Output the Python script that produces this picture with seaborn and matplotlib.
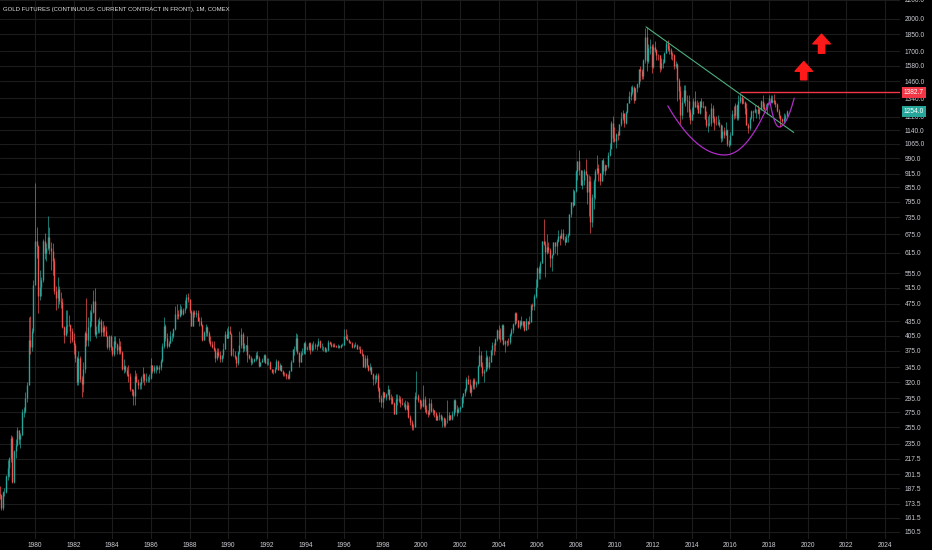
import numpy as np
import pandas as pd
import matplotlib
matplotlib.use("Agg")
import matplotlib.pyplot as plt
import matplotlib.ticker as mticker
import matplotlib.transforms as mtransforms
from matplotlib.patches import FancyArrowPatch
import seaborn as sns

# --- monthly gold futures, Jan 1978 .. Dec 2018 ---
first_open = 165
close_prices = [
    175, 182, 181, 170, 184, 184, 200, 208, 218, 242, 194, 226,  # 1978
    233, 251, 240, 245, 275, 277, 296, 315, 397, 383, 415, 524,  # 1979
    653, 637, 494, 518, 535, 653, 614, 631, 666, 629, 619, 589,  # 1980
    506, 489, 513, 482, 479, 422, 406, 425, 428, 427, 414, 397,  # 1981
    387, 362, 320, 361, 325, 317, 342, 411, 397, 423, 436, 456,  # 1982
    481, 408, 414, 430, 437, 413, 422, 414, 405, 382, 405, 382,  # 1983
    370, 394, 388, 377, 385, 373, 342, 348, 341, 333, 330, 309,  # 1984
    306, 298, 330, 321, 316, 317, 327, 334, 323, 325, 325, 327,  # 1985
    350, 338, 345, 346, 343, 345, 357, 384, 424, 401, 384, 391,  # 1986
    405, 405, 419, 452, 451, 448, 462, 452, 460, 465, 492, 486,  # 1987
    458, 426, 457, 451, 455, 436, 437, 428, 397, 412, 423, 410,  # 1988
    394, 388, 383, 377, 361, 373, 368, 359, 367, 378, 409, 401,  # 1989
    415, 408, 368, 368, 363, 352, 372, 387, 408, 380, 384, 386,  # 1990
    367, 362, 355, 357, 360, 368, 362, 347, 354, 358, 367, 353,  # 1991
    354, 354, 342, 337, 337, 343, 357, 341, 349, 339, 334, 333,  # 1992
    330, 327, 338, 355, 378, 378, 401, 372, 355, 370, 371, 391,  # 1993
    378, 381, 391, 376, 387, 386, 384, 386, 394, 383, 383, 383,  # 1994
    375, 376, 392, 389, 385, 387, 384, 383, 384, 383, 387, 387,  # 1995
    405, 400, 396, 392, 391, 382, 385, 386, 379, 379, 371, 369,  # 1996
    345, 362, 349, 340, 345, 334, 326, 325, 332, 311, 296, 290,  # 1997
    304, 297, 301, 309, 294, 296, 288, 273, 294, 292, 294, 288,  # 1998
    287, 287, 280, 286, 269, 262, 256, 255, 299, 299, 292, 288,  # 1999
    284, 294, 279, 275, 273, 289, 277, 278, 274, 265, 270, 272,  # 2000
    266, 267, 258, 264, 265, 271, 266, 273, 293, 279, 275, 279,  # 2001
    282, 297, 303, 309, 326, 318, 305, 313, 324, 317, 319, 348,  # 2002
    368, 348, 336, 339, 364, 346, 355, 376, 387, 386, 398, 417,  # 2003
    400, 398, 427, 388, 395, 393, 392, 409, 416, 429, 453, 438,  # 2004
    423, 436, 428, 436, 417, 437, 430, 434, 472, 471, 495, 518,  # 2005
    569, 556, 583, 654, 643, 616, 634, 624, 599, 607, 648, 636,  # 2006
    653, 669, 663, 681, 660, 650, 667, 674, 748, 795, 784, 838,  # 2007
    927, 975, 933, 865, 887, 928, 914, 834, 884, 718, 816, 884,  # 2008
    928, 942, 919, 884, 980, 927, 955, 953, 1009, 1040, 1182, 1096,  # 2009
    1082, 1118, 1115, 1180, 1213, 1245, 1182, 1248, 1308, 1357, 1386, 1421,  # 2010
    1332, 1409, 1439, 1556, 1536, 1500, 1628, 1825, 1620, 1725, 1746, 1566,  # 2011
    1738, 1710, 1669, 1664, 1560, 1604, 1610, 1687, 1772, 1719, 1712, 1675,  # 2012
    1664, 1578, 1595, 1472, 1392, 1234, 1313, 1396, 1327, 1323, 1250, 1202,  # 2013
    1240, 1321, 1284, 1295, 1246, 1322, 1282, 1287, 1210, 1171, 1175, 1184,  # 2014
    1279, 1213, 1183, 1182, 1190, 1172, 1095, 1135, 1115, 1142, 1064, 1061,  # 2015
    1116, 1238, 1234, 1293, 1215, 1322, 1350, 1311, 1317, 1275, 1173, 1152,  # 2016
    1211, 1255, 1249, 1268, 1268, 1242, 1269, 1322, 1283, 1271, 1274, 1309,  # 2017
    1345, 1318, 1327, 1316, 1305, 1254, 1233, 1207, 1196, 1215, 1223, 1254,  # 2018
]
high_prices = [
    178, 185, 190, 182, 185, 188, 201, 216, 220, 245, 244, 228,
    240, 256, 252, 248, 280, 282, 305, 320, 445, 447, 420, 535,
    873, 700, 640, 565, 545, 660, 680, 645, 740, 700, 650, 645,
    600, 520, 545, 520, 505, 490, 425, 460, 460, 450, 430, 420,
    410, 390, 365, 375, 365, 330, 355, 415, 490, 445, 460, 475,
    510, 515, 425, 440, 445, 440, 435, 427, 425, 405, 407, 407,
    385, 405, 405, 390, 400, 395, 375, 360, 350, 345, 350, 335,
    310, 310, 340, 335, 325, 320, 330, 345, 335, 335, 330, 333,
    362, 350, 350, 350, 350, 350, 360, 390, 445, 430, 410, 395,
    415, 410, 420, 470, 475, 460, 475, 470, 465, 485, 500, 503,
    485, 460, 460, 460, 460, 460, 445, 445, 430, 415, 430, 425,
    415, 405, 395, 395, 380, 380, 380, 375, 368, 390, 415, 420,
    425, 425, 410, 380, 375, 365, 375, 415, 420, 412, 390, 387,
    405, 370, 365, 362, 362, 372, 375, 365, 355, 362, 370, 370,
    362, 362, 356, 343, 343, 346, 360, 358, 352, 350, 340, 337,
    335, 333, 340, 358, 378, 385, 410, 408, 360, 374, 380, 392,
    395, 385, 393, 392, 390, 395, 390, 389, 400, 397, 390, 385,
    382, 380, 397, 395, 392, 390, 390, 387, 388, 387, 389, 390,
    418, 419, 409, 399, 395, 392, 389, 392, 388, 385, 385, 378,
    370, 368, 367, 350, 352, 347, 335, 332, 335, 335, 313, 300,
    306, 305, 303, 316, 306, 301, 298, 290, 301, 302, 300, 298,
    295, 290, 292, 291, 290, 272, 264, 259, 305, 339, 302, 294,
    292, 316, 298, 285, 278, 296, 294, 281, 278, 276, 272, 275,
    273, 270, 269, 267, 292, 275, 271, 277, 294, 294, 285, 283,
    284, 299, 303, 311, 328, 332, 325, 315, 327, 327, 322, 350,
    385, 375, 354, 342, 377, 368, 365, 377, 392, 390, 401, 418,
    427, 420, 429, 430, 396, 397, 401, 410, 420, 431, 456, 457,
    438, 439, 446, 437, 437, 442, 435, 448, 474, 477, 499, 540,
    572, 575, 590, 654, 730, 654, 677, 650, 630, 612, 650, 650,
    660, 690, 672, 695, 693, 670, 675, 678, 748, 796, 848, 842,
    932, 975, 1033, 935, 935, 938, 988, 915, 908, 907, 829, 890,
    939, 1007, 962, 920, 983, 990, 960, 958, 1021, 1070, 1194, 1227,
    1162, 1126, 1138, 1180, 1249, 1265, 1213, 1254, 1310, 1388, 1424, 1432,
    1423, 1413, 1448, 1557, 1577, 1555, 1632, 1912, 1923, 1760, 1804, 1764,
    1764, 1792, 1720, 1675, 1666, 1640, 1630, 1692, 1790, 1798, 1755, 1725,
    1696, 1676, 1617, 1600, 1488, 1425, 1348, 1434, 1434, 1362, 1361, 1267,
    1280, 1345, 1392, 1331, 1315, 1325, 1345, 1323, 1288, 1255, 1225, 1238,
    1308, 1298, 1223, 1225, 1232, 1205, 1176, 1170, 1158, 1192, 1148, 1088,
    1129, 1263, 1287, 1306, 1304, 1362, 1377, 1366, 1344, 1323, 1307, 1184,
    1220, 1264, 1264, 1295, 1270, 1296, 1275, 1331, 1362, 1306, 1299, 1311,
    1366, 1362, 1365, 1369, 1326, 1309, 1267, 1218, 1214, 1246, 1240, 1262,
]
low_prices = [
    165, 172, 178, 168, 168, 180, 183, 196, 198, 214, 193, 193,
    218, 232, 235, 230, 245, 268, 274, 290, 315, 370, 375, 410,
    530, 600, 455, 485, 495, 530, 595, 590, 625, 610, 565, 550,
    500, 460, 465, 475, 465, 420, 390, 405, 410, 425, 390, 392,
    370, 355, 315, 315, 320, 297, 305, 335, 385, 385, 395, 425,
    455, 405, 400, 410, 410, 405, 405, 405, 405, 378, 376, 376,
    365, 365, 380, 370, 370, 370, 340, 335, 337, 330, 320, 307,
    300, 285, 285, 320, 310, 310, 310, 320, 315, 320, 320, 320,
    325, 335, 335, 335, 340, 336, 340, 355, 380, 395, 380, 383,
    390, 395, 400, 417, 440, 440, 445, 450, 450, 455, 465, 480,
    455, 425, 425, 445, 445, 435, 425, 425, 395, 397, 405, 405,
    390, 385, 380, 375, 355, 358, 363, 355, 355, 362, 378, 400,
    400, 408, 365, 365, 360, 345, 350, 370, 380, 373, 374, 375,
    355, 360, 350, 351, 354, 356, 360, 345, 347, 355, 355, 352,
    350, 350, 342, 335, 334, 336, 343, 340, 340, 338, 330, 330,
    326, 326, 326, 338, 354, 367, 374, 370, 345, 355, 368, 370,
    370, 376, 376, 370, 374, 377, 379, 376, 385, 381, 376, 374,
    373, 373, 375, 388, 382, 383, 382, 382, 381, 381, 381, 384,
    386, 398, 396, 390, 390, 381, 381, 384, 378, 378, 371, 366,
    345, 344, 345, 338, 338, 334, 315, 318, 320, 307, 290, 282,
    281, 295, 292, 300, 292, 287, 287, 273, 273, 285, 290, 283,
    285, 283, 278, 278, 267, 258, 252, 252, 255, 294, 290, 280,
    281, 282, 275, 273, 269, 272, 276, 271, 269, 265, 264, 264,
    263, 256, 255, 255, 261, 264, 264, 264, 270, 276, 270, 274,
    276, 282, 288, 299, 307, 317, 303, 299, 310, 310, 313, 318,
    347, 345, 330, 320, 339, 342, 342, 354, 368, 368, 375, 395,
    399, 392, 396, 387, 372, 385, 387, 389, 404, 411, 428, 432,
    420, 418, 428, 423, 415, 417, 418, 431, 434, 460, 460, 490,
    518, 540, 540, 585, 640, 543, 610, 615, 573, 560, 618, 613,
    608, 650, 638, 661, 655, 640, 650, 650, 674, 735, 775, 784,
    835, 886, 911, 864, 850, 865, 910, 786, 740, 681, 700, 765,
    805, 916, 885, 866, 884, 917, 908, 934, 945, 1000, 1041, 1075,
    1075, 1044, 1088, 1113, 1166, 1201, 1157, 1176, 1245, 1309, 1332, 1369,
    1309, 1326, 1383, 1418, 1462, 1478, 1480, 1600, 1535, 1603, 1672, 1523,
    1565, 1690, 1627, 1627, 1527, 1548, 1565, 1600, 1680, 1700, 1672, 1635,
    1626, 1555, 1565, 1321, 1338, 1180, 1205, 1310, 1288, 1251, 1221, 1180,
    1201, 1241, 1284, 1268, 1242, 1240, 1281, 1273, 1205, 1160, 1131, 1168,
    1167, 1191, 1142, 1171, 1170, 1162, 1077, 1082, 1099, 1112, 1053, 1046,
    1062, 1112, 1206, 1212, 1199, 1202, 1310, 1303, 1306, 1241, 1171, 1123,
    1145, 1207, 1194, 1244, 1214, 1237, 1205, 1263, 1272, 1262, 1264, 1236,
    1302, 1307, 1306, 1303, 1285, 1253, 1211, 1161, 1183, 1182, 1196, 1222,
]

# price scale and time axis labels
price_ticks = [2200.0, 2000.0, 1850.0, 1700.0, 1580.0, 1460.0, 1340.0, 1220.0, 1140.0,
               1065.0, 990.0, 915.0, 855.0, 795.0, 735.0, 675.0, 615.0, 555.0, 515.0,
               475.0, 435.0, 405.0, 375.0, 345.0, 320.0, 295.0, 275.0, 255.0, 235.0,
               217.5, 201.5, 187.5, 173.5, 161.5, 150.5]
year_ticks = list(range(1980, 2025, 2))
title_text = "GOLD FUTURES (CONTINUOUS: CURRENT CONTRACT IN FRONT), 1M, COMEX"

# drawings on the chart (anchor points in year / price)
trend_x = [2011.63, 2019.28]
trend_y = [1921, 1128]
resist_level = 1382.7
resist_start = 2016.49
last_price = 1254.0
cup_x = [2012.76, 2015.71, 2018.04]      # start, bottom, end
cup_y = [1290, 1007, 1322]
handle_x = [2018.04, 2018.52, 2019.30]
handle_y = [1322, 1160, 1341]
arrow_x = [2019.80, 2020.72]
arrow_base = [1471, 1682]
arrow_tip = [1613, 1852]


def arc(xs, ys, n=60):
    # two half-parabolas (in log price) meeting at the bottom point
    h, k = xs[1], np.log(ys[1])
    left = np.linspace(xs[0], h, n)
    right = np.linspace(h, xs[2], n)
    a1 = (np.log(ys[0]) - k) / (xs[0] - h) ** 2
    a2 = (np.log(ys[2]) - k) / (xs[2] - h) ** 2
    tx = np.concatenate([left, right[1:]])
    ty = np.concatenate([k + a1 * (left - h) ** 2, k + a2 * (right[1:] - h) ** 2])
    return tx, np.exp(ty)


# --- build OHLC frame ---
dates = pd.date_range("1978-01-01", periods=len(close_prices), freq="MS")
df = pd.DataFrame({"close": close_prices, "high": high_prices, "low": low_prices})
df["open"] = [first_open] + close_prices[:-1]
df["t"] = dates.year + (dates.month - 1) / 12.0
df["up"] = df["close"] >= df["open"]

UP = "#26a69a"
DOWN = "#ef5350"
TXT = "#c9ccd3"

sns.set_theme(style="dark", rc={"axes.facecolor": "#000000", "figure.facecolor": "#000000"})
plt.rcParams["font.family"] = ["Liberation Sans Narrow", "Liberation Sans", "DejaVu Sans"]

fig = plt.figure(figsize=(9.32, 5.5), dpi=100)
ax = fig.add_axes([0, 11 / 550, 900 / 932, 539 / 550])
ax.set_facecolor("#000000")
ax.set_yscale("log")

colors = np.where(df["up"], UP, DOWN)
ax.vlines(df["t"], df["low"], df["high"], colors=colors, linewidth=0.5, zorder=3)
ax.vlines(df["t"], df[["open", "close"]].min(axis=1), df[["open", "close"]].max(axis=1),
          colors=colors, linewidth=1.0, zorder=4)

# trendline, resistance, cup & handle
sns.lineplot(x=trend_x, y=trend_y, ax=ax, color="#4caf7d", linewidth=0.8, zorder=5)
ax.hlines(resist_level, resist_start, 2024.78, color="#f23645", linewidth=1.0, zorder=5)

cx, cy = arc(cup_x, cup_y)
sns.lineplot(x=cx, y=cy, ax=ax, color="#b02cc8", linewidth=0.9, zorder=5, sort=False)
hx, hy = arc(handle_x, handle_y, 30)
sns.lineplot(x=hx, y=hy, ax=ax, color="#b02cc8", linewidth=0.9, zorder=5, sort=False)

for xa, yb, yt in zip(arrow_x, arrow_base, arrow_tip):
    ax.add_patch(FancyArrowPatch((xa, yb), (xa, yt),
                                 arrowstyle="simple,head_length=0.7,head_width=1.25,tail_width=0.45",
                                 mutation_scale=10, color="#ff1a1a", shrinkA=0, shrinkB=0, zorder=6))

# axes
ax.set_xlim(1978.19, 2024.78)
ax.set_ylim(145.2, 2200)
ax.yaxis.tick_right()
ax.yaxis.set_major_locator(mticker.FixedLocator(price_ticks))
ax.yaxis.set_major_formatter(mticker.FixedFormatter([f"{v:.1f}" for v in price_ticks]))
ax.yaxis.set_minor_locator(mticker.NullLocator())
ax.set_xticks(year_ticks)
ax.set_xticklabels([str(y) for y in year_ticks])
ax.tick_params(axis="y", length=0, pad=3.5, labelsize=4.8, labelcolor=TXT)
ax.tick_params(axis="x", length=0, pad=2, labelsize=4.8, labelcolor=TXT)
ax.grid(True, color="#1c1c1c", linewidth=0.8)
ax.set_axisbelow(True)
for s in ax.spines.values():
    s.set_visible(False)
ax.set_xlabel("")
ax.set_ylabel("")

# price labels on the scale
blend = mtransforms.blended_transform_factory(ax.transAxes, ax.transData)
ax.text(1.004, resist_level, f"{resist_level:.1f}", transform=blend, fontsize=4.8, color="white",
        va="center", ha="left", zorder=7,
        bbox=dict(boxstyle="square,pad=0.3", fc="#f23645", ec="none"), clip_on=False)
ax.text(1.004, last_price, f"{last_price:.1f}", transform=blend, fontsize=4.8, color="white",
        va="center", ha="left", zorder=7,
        bbox=dict(boxstyle="square,pad=0.3", fc=UP, ec="none"), clip_on=False)

fig.text(3 / 932, 1 - 9 / 550, title_text, color="#e0e0e0", fontsize=4.3, va="center", ha="left")

fig.savefig("out.png", dpi=100, facecolor="#000000")
